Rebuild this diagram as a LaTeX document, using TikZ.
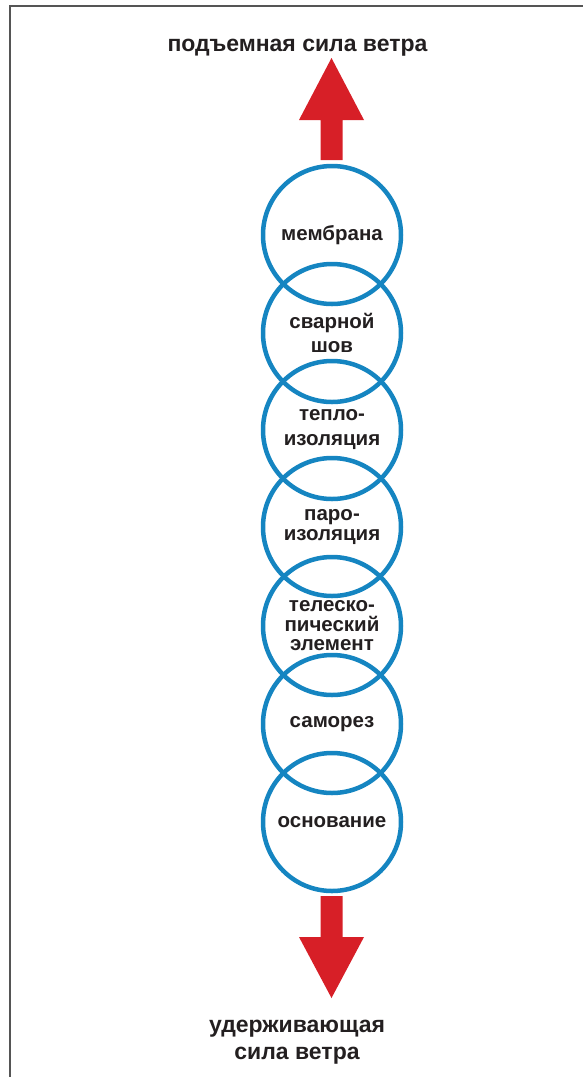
\documentclass[tikz,border=0pt]{standalone}
\usepackage{fontspec}
\setmainfont{Liberation Sans}
\definecolor{ringblue}{HTML}{1585C1}
\definecolor{arrowred}{HTML}{D71F27}
\definecolor{txt}{HTML}{231F20}
\definecolor{frame}{HTML}{555555}
\tikzset{
  ring/.style={circle, draw=ringblue, line width=4.5pt, minimum size=138pt, inner sep=0pt,
    align=center, text=txt, font=\bfseries\fontsize{20.5}{24}\selectfont},
  caption/.style={text=txt, align=center, inner sep=0pt, font=\bfseries\fontsize{23}{27}\selectfont},
  force/.style={fill=arrowred, draw=none}
}
\begin{document}
\begin{tikzpicture}[x=1pt,y=-1pt]
\useasboundingbox (0,0) rectangle (582,1077);
\draw[frame, line width=1.5pt] (10,1080) -- (10,6) -- (590,6);
\node[caption] (top) at (297.5,48) {подъемная сила ветра};
\node[caption] (bottom) at (297,1042) {удерживающая\\сила ветра};
\fill[force] (331.5,58) -- (364,120) -- (342.5,120) -- (342.5,160) -- (320.5,160) -- (320.5,120) -- (299,120) -- cycle;
\fill[force] (331.5,998) -- (364,937) -- (342.5,937) -- (342.5,896) -- (320.5,896) -- (320.5,937) -- (299,937) -- cycle;
\node[ring] (c1) at (332,235) {мембрана};
\node[ring] (c2) at (332,333) {сварной\\шов};
\node[ring, font=\bfseries\fontsize{20.5}{25}\selectfont] (c3) at (332,430) {тепло-\\изоляция};
\node[ring, font=\bfseries\fontsize{20.5}{19.5}\selectfont] (c4) at (332,527) {паро-\\изоляция};
\node[ring, font=\bfseries\fontsize{20.5}{19.5}\selectfont] (c5) at (332,626) {телеско-\\пический\\элемент};
\node[ring] (c6) at (332,724) {саморез};
\node[ring] (c7) at (332,822) {основание};
\end{tikzpicture}
\end{document}
